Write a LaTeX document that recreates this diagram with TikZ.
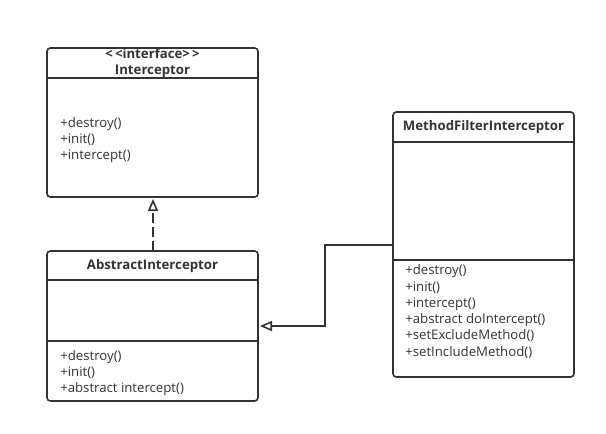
\documentclass[tikz,border=0pt]{standalone}
\usepackage{fontspec}
\setmainfont{Open Sans}
\usetikzlibrary{arrows.meta}
\definecolor{ink}{HTML}{333333}
\tikzset{
  umlbox/.style={draw=ink, line width=1.2pt, rounded corners=2.5pt, inner sep=0pt, outer sep=0pt, anchor=north west},
  sep/.style={draw=ink, line width=1.2pt},
  title/.style={font=\fontsize{9.9}{11.5}\selectfont\bfseries, text=ink, inner sep=0pt, align=center},
  ops/.style={font=\fontsize{9.9}{12.2}\selectfont, text=ink, inner sep=0pt, align=left, anchor=north west},
  conn/.style={draw=ink, line width=1.2pt},
  hollow/.style={-{Triangle[open, length=9pt, width=7.5pt, fill=white]}},
}
\begin{document}
\begin{tikzpicture}[x=0.75pt, y=-0.75pt]
\useasboundingbox (0,0) rectangle (606,433);
% Interceptor
\node[umlbox, minimum width=211*0.75pt, minimum height=149*0.75pt] (i) at (47,48) {};
\draw[sep] (47,78) -- (258,78);
\node[title] (it) at (152.5,63) {{<}\,{<}interface{>}\,{>}\\Interceptor};
\node[ops] (io) at (60,117) {+destroy()\\+init()\\+intercept()};
% AbstractInterceptor
\node[umlbox, minimum width=211*0.75pt, minimum height=150*0.75pt] (a) at (47,251) {};
\draw[sep] (47,280) -- (258,280);
\draw[sep] (47,341) -- (258,341);
\node[title] (at) at (152.5,266) {AbstractInterceptor};
\node[ops] (ao) at (60,350) {+destroy()\\+init()\\+abstract intercept()};
% MethodFilterInterceptor
\node[umlbox, minimum width=181*0.75pt, minimum height=265*0.75pt] (m) at (393,112) {};
\draw[sep] (393,142) -- (574,142);
\draw[sep] (393,260) -- (574,260);
\node[title] (mt) at (483.5,127) {MethodFilterInterceptor};
\node[ops] (mo) at (405,264.5) {+destroy()\\+init()\\+intercept()\\+abstract doIntercept()\\+setExcludeMethod()\\+setIncludeMethod()};
% connectors
\coordinate (atop) at (153,251);
\coordinate (ibot) at (153,199);
\draw[conn, hollow, dash pattern=on 7.5pt off 3pt] (atop) -- (ibot);
\coordinate (mleft) at (393,245);
\coordinate (bend1) at (325,245);
\coordinate (bend2) at (325,326);
\coordinate (aright) at (260,326);
\draw[conn, hollow] (mleft) -- (bend1) -- (bend2) -- (aright);
\end{tikzpicture}
\end{document}
